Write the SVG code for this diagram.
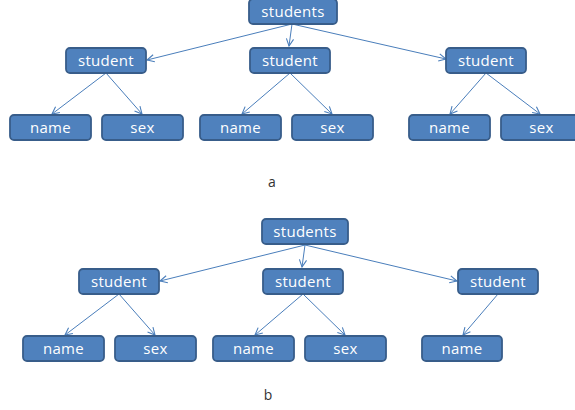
<svg xmlns="http://www.w3.org/2000/svg" width="575" height="410" viewBox="0 0 575 410">
<style>
.n rect{fill:#4f81bd;stroke:#385d8a;stroke-width:1.8}
.n text{fill:#ffffff;font-family:"Open Sans","Liberation Sans",sans-serif;font-size:15px;text-anchor:middle;letter-spacing:0.3px}
.c line{stroke:#4a7ebb;stroke-width:1;marker-end:url(#ah)}
.lbl{fill:#333333;font-family:"Open Sans","Liberation Sans",sans-serif;font-size:14px;text-anchor:middle}
</style>
<defs>
<marker id="ah" viewBox="0 0 10 10" refX="9" refY="5" markerWidth="9" markerHeight="9" markerUnits="userSpaceOnUse" orient="auto">
<path d="M1,1 L9,5 L1,9" fill="none" stroke="#4a7ebb" stroke-width="1.2"/>
</marker>
</defs>
<rect width="575" height="410" fill="#ffffff"/>
<g class="c" id="connectors">
<line x1="292" y1="24" x2="147" y2="60"/>
<line x1="292" y1="24" x2="289" y2="46"/>
<line x1="292" y1="24" x2="446" y2="59"/>
<line x1="106" y1="73" x2="52" y2="114"/>
<line x1="106" y1="73" x2="142" y2="114"/>
<line x1="290" y1="73" x2="242" y2="114"/>
<line x1="290" y1="73" x2="332" y2="114"/>
<line x1="486" y1="73" x2="450" y2="114"/>
<line x1="486" y1="73" x2="540" y2="114"/>
<line x1="305" y1="245" x2="160" y2="281"/>
<line x1="305" y1="245" x2="302" y2="267"/>
<line x1="305" y1="245" x2="457" y2="281"/>
<line x1="119" y1="294" x2="65" y2="335"/>
<line x1="119" y1="294" x2="155" y2="335"/>
<line x1="303" y1="294" x2="255" y2="335"/>
<line x1="303" y1="294" x2="345" y2="335"/>
<line x1="498" y1="294" x2="463" y2="335"/>
</g>
<g class="n" id="a-students"><rect x="249" y="-1" width="88" height="25" rx="4"/><text x="293" y="17">students</text></g>
<g class="n" id="a-student1"><rect x="66" y="48" width="80" height="25" rx="4"/><text x="106" y="66">student</text></g>
<g class="n" id="a-student2"><rect x="250" y="48" width="80" height="25" rx="4"/><text x="290" y="66">student</text></g>
<g class="n" id="a-student3"><rect x="446" y="48" width="80" height="25" rx="4"/><text x="486" y="66">student</text></g>
<g class="n" id="a-name1"><rect x="10" y="115" width="81" height="25" rx="4"/><text x="50.5" y="133">name</text></g>
<g class="n" id="a-sex1"><rect x="102" y="115" width="81" height="25" rx="4"/><text x="142.5" y="133">sex</text></g>
<g class="n" id="a-name2"><rect x="200" y="115" width="81" height="25" rx="4"/><text x="240.5" y="133">name</text></g>
<g class="n" id="a-sex2"><rect x="292" y="115" width="81" height="25" rx="4"/><text x="332.5" y="133">sex</text></g>
<g class="n" id="a-name3"><rect x="409" y="115" width="81" height="25" rx="4"/><text x="449.5" y="133">name</text></g>
<g class="n" id="a-sex3"><rect x="501" y="115" width="81" height="25" rx="4"/><text x="541.5" y="133">sex</text></g>
<text class="lbl" x="272" y="187">a</text>
<g class="n" id="b-students"><rect x="262" y="219" width="86" height="25" rx="4"/><text x="305" y="237">students</text></g>
<g class="n" id="b-student1"><rect x="79" y="269" width="80" height="25" rx="4"/><text x="119" y="287">student</text></g>
<g class="n" id="b-student2"><rect x="263" y="269" width="80" height="25" rx="4"/><text x="303" y="287">student</text></g>
<g class="n" id="b-student3"><rect x="458" y="269" width="80" height="25" rx="4"/><text x="498" y="287">student</text></g>
<g class="n" id="b-name1"><rect x="23" y="336" width="81" height="25" rx="4"/><text x="63.5" y="354">name</text></g>
<g class="n" id="b-sex1"><rect x="115" y="336" width="81" height="25" rx="4"/><text x="155.5" y="354">sex</text></g>
<g class="n" id="b-name2"><rect x="213" y="336" width="81" height="25" rx="4"/><text x="253.5" y="354">name</text></g>
<g class="n" id="b-sex2"><rect x="305" y="336" width="81" height="25" rx="4"/><text x="345.5" y="354">sex</text></g>
<g class="n" id="b-name3"><rect x="422" y="336" width="80" height="25" rx="4"/><text x="462" y="354">name</text></g>
<text class="lbl" x="268" y="400">b</text>
</svg>
